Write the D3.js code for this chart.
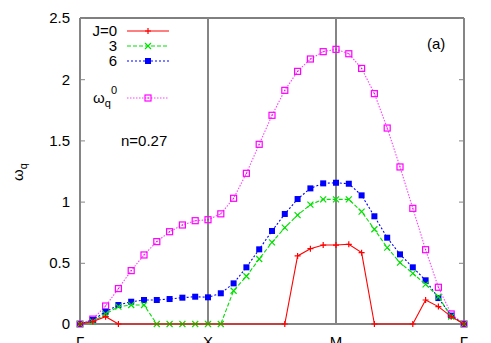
<!DOCTYPE html>
<html>
<head>
<meta charset="utf-8">
<script src="https://cdn.jsdelivr.net/npm/d3@7"></script>
<style>
  body { margin: 0; background: #fff; }
  svg { display: block; font-family: "Liberation Sans", Arial, sans-serif; }
</style>
</head>
<body>
<svg id="chart" width="491" height="343"></svg>
<script>
// path Γ-X-M-Γ, 10 steps per segment
const symPoints = [
  { i: 0, label: "Γ" }, { i: 10, label: "X" }, { i: 20, label: "M" }, { i: 30, label: "Γ" }
];
const yTicks = [0, 0.5, 1, 1.5, 2, 2.5];

const omega0 = [0, 0.04, 0.147, 0.289, 0.436, 0.564, 0.673, 0.754, 0.809, 0.844, 0.852,
  0.90, 1.027, 1.231, 1.468, 1.705, 1.909, 2.064, 2.165, 2.225, 2.244,
  2.208, 2.088, 1.882, 1.601, 1.283, 0.945, 0.607, 0.30, 0.082, 0];
const j6 = [0, 0.033, 0.10, 0.155, 0.182, 0.196, 0.196, 0.204, 0.215, 0.223, 0.218,
  0.251, 0.332, 0.463, 0.610, 0.76, 0.899, 1.021, 1.108, 1.149, 1.154,
  1.146, 1.051, 0.88, 0.705, 0.569, 0.463, 0.357, 0.212, 0.068, 0];
const j3 = [0, 0.02, 0.082, 0.142, 0.155, 0.155, 0, 0, 0, 0, 0,
  0, 0.272, 0.39, 0.531, 0.667, 0.787, 0.89, 0.975, 1.018, 1.018,
  1.018, 0.918, 0.774, 0.624, 0.501, 0.414, 0.324, 0.223, 0.06, 0];
const j0 = [0, 0.02, 0.06, 0, 0, 0, 0, 0, 0, 0, 0,
  0, 0, 0, 0, 0, 0, 0.556, 0.615, 0.645, 0.645,
  0.651, 0.583, 0, 0, 0, 0, 0.196, 0.142, 0.06, 0];

const series = [
  { name: "J=0", vals: j0, color: "#ff0000", dash: null, marker: "plus" },
  { name: "3", vals: j3, color: "#00e000", dash: "4,2", marker: "cross" },
  { name: "6", vals: j6, color: "#0000ff", dash: "2,2", marker: "fsquare" },
  { name: "w0", vals: omega0, color: "#ff00ff", dash: "1.5,1.5", marker: "osquare" }
];

const svg = d3.select("#chart");
const m = { top: 18, right: 27, bottom: 19, left: 80 };
const W = 491 - m.left - m.right, H = 343 - m.top - m.bottom;
const g = svg.append("g").attr("transform", `translate(${m.left},${m.top})`);

const x = d3.scaleLinear().domain([0, 30]).range([0, W]);
const y = d3.scaleLinear().domain([0, 2.5]).range([H, 0]);
const grey = "#858585";

// top border
g.append("line").attr("x1", 0).attr("x2", W).attr("y1", 0).attr("y2", 0)
  .attr("stroke", "#000").attr("stroke-width", 1);

// axes with inward ticks
const yl = g.append("g").call(d3.axisLeft(y).tickValues(yTicks).tickSizeInner(-5).tickSizeOuter(0)
  .tickPadding(10).tickFormat(d3.format("")));
const yr = g.append("g").attr("transform", `translate(${W},0)`)
  .call(d3.axisRight(y).tickValues(yTicks).tickSizeInner(-5).tickSizeOuter(0).tickFormat(""));
[yl, yr].forEach(a => {
  a.select(".domain").remove();
  a.selectAll("line").attr("stroke", grey);
  a.selectAll("text").attr("font-size", 15).attr("fill", "#000").attr("font-family", "Liberation Sans, Arial, sans-serif");
});

// symmetry lines (grey) + bottom grey line
g.selectAll("line.sym").data(symPoints).join("line").attr("class", "sym")
  .attr("x1", d => x(d.i)).attr("x2", d => x(d.i)).attr("y1", 0).attr("y2", H)
  .attr("stroke", grey).attr("stroke-width", 2);
g.append("line").attr("x1", 0).attr("x2", W).attr("y1", y(0)).attr("y2", y(0))
  .attr("stroke", grey).attr("stroke-width", 2);

// x labels (cut by the bottom edge, as in the original)
g.selectAll("text.sym").data(symPoints).join("text").attr("class", "sym")
  .attr("x", d => x(d.i)).attr("y", H + 23).attr("text-anchor", "middle")
  .attr("font-size", 15).text(d => d.label);

// y label
const ylab = svg.append("text").attr("transform", "translate(23,172) rotate(-90)")
  .attr("text-anchor", "middle").attr("font-size", 15);
ylab.append("tspan").text("ω");
ylab.append("tspan").attr("font-size", 11).attr("dy", 4).text("q");

function drawMarker(sel, type, color) {
  if (type === "plus") {
    sel.append("path").attr("d", "M-3,0H3M0,-3V3").attr("stroke", color).attr("stroke-width", 1.2).attr("fill", "none");
  } else if (type === "cross") {
    sel.append("path").attr("d", "M-3,-3L3,3M-3,3L3,-3").attr("stroke", color).attr("stroke-width", 1.2).attr("fill", "none");
  } else if (type === "fsquare") {
    sel.append("rect").attr("x", -3).attr("y", -3).attr("width", 6).attr("height", 6).attr("fill", color);
  } else {
    sel.append("rect").attr("x", -3).attr("y", -3).attr("width", 6).attr("height", 6)
      .attr("fill", "none").attr("stroke", color).attr("stroke-width", 1.2);
    sel.append("rect").attr("x", -0.6).attr("y", -0.6).attr("width", 1.2).attr("height", 1.2).attr("fill", color);
  }
}

const line = d3.line().x((d, i) => x(i)).y(d => y(d));
// red markers only show next to non-zero values
const shown = (s, i) => s.marker !== "plus" || i === 0 || i === 30 ||
  s.vals[i] > 0 || s.vals[i - 1] > 0 || s.vals[i + 1] > 0;

// draw back to front: magenta, blue, green, red
series.slice().reverse().forEach(s => {
  g.append("path").datum(s.vals).attr("d", line).attr("fill", "none")
    .attr("stroke", s.color).attr("stroke-width", 1.1)
    .attr("stroke-dasharray", s.dash).attr("opacity", s.marker === "osquare" ? 0.75 : 1);
  g.selectAll(null).data(s.vals.map((v, i) => ({ v, i })).filter(d => shown(s, d.i))).join("g")
    .attr("transform", d => `translate(${x(d.i)},${y(d.v)})`)
    .each(function () { drawMarker(d3.select(this), s.marker, s.color); });
});

// legend
const legY = [31, 46, 61, 98];
series.forEach((s, k) => {
  const row = svg.append("g").attr("transform", `translate(0,${legY[k]})`);
  row.append("line").attr("x1", 127).attr("x2", 169).attr("y1", 0).attr("y2", 0)
    .attr("stroke", s.color).attr("stroke-width", 1.1).attr("stroke-dasharray", s.dash)
    .attr("opacity", s.marker === "osquare" ? 0.75 : 1);
  drawMarker(row.append("g").attr("transform", "translate(148,0)"), s.marker, s.color);
  if (s.name === "w0") {
    const t = row.append("text").attr("x", 117).attr("y", 5).attr("text-anchor", "end").attr("font-size", 15);
    t.append("tspan").text("ω");
    t.append("tspan").attr("font-size", 11).attr("dy", 4).text("q");
    t.append("tspan").attr("font-size", 11).attr("dy", -13).text("0");
  } else {
    row.append("text").attr("x", 117).attr("y", 5).attr("text-anchor", "end").attr("font-size", 15).text(s.name);
  }
});

svg.append("text").attr("x", 121).attr("y", 146).attr("font-size", 15).text("n=0.27");
svg.append("text").attr("x", 427).attr("y", 49).attr("font-size", 15).text("(a)");
</script>
</body>
</html>
